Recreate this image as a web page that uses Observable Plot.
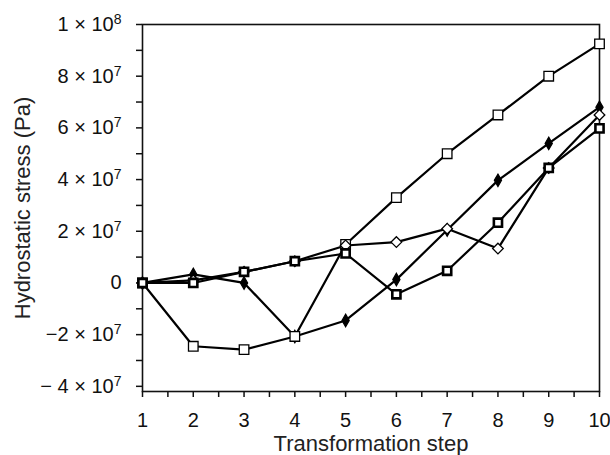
<!DOCTYPE html>
<html>
<head>
<meta charset="utf-8">
<script src="https://cdn.jsdelivr.net/npm/d3@7"></script>
<script src="https://cdn.jsdelivr.net/npm/@observablehq/plot@0.6"></script>
<style>
  html, body { margin: 0; padding: 0; background: #fff; }
  #chart { width: 610px; height: 455px; }
</style>
</head>
<body>
<div id="chart"></div>
<script>
const steps = [1, 2, 3, 4, 5, 6, 7, 8, 9, 10];
const openSquare    = [0, -2.45e7, -2.58e7, -2.07e7, 1.49e7, 3.3e7, 5.0e7, 6.5e7, 8.0e7, 9.25e7];
const filledDiamond = [0, 0.33e7, 0.0, -2.07e7, -1.45e7, 0.13e7, 2.05e7, 3.97e7, 5.4e7, 6.8e7];
const openDiamond   = [0, 0.1e7, 0.43e7, 0.84e7, 1.45e7, 1.58e7, 2.1e7, 1.33e7, 4.45e7, 6.5e7];
const boldSquare    = [0, 0, 0.43e7, 0.84e7, 1.14e7, -0.44e7, 0.47e7, 2.33e7, 4.45e7, 5.98e7];

const yMajorTicks = [-4e7, -2e7, 0, 2e7, 4e7, 6e7, 8e7, 1e8];
const yTickBase = ["\u2212 4 \u00d7 10", "\u22122 \u00d7 10", "0", "2 \u00d7 10", "4 \u00d7 10", "6 \u00d7 10", "8 \u00d7 10", "1 \u00d7 10"];
const yTickExp  = ["7", "7", "", "7", "7", "7", "7", "8"];
const yMinorTicks = [-3e7, -1e7, 1e7, 3e7, 5e7, 7e7, 9e7];
const xMinorTicks = [1.5, 2.5, 3.5, 4.5, 5.5, 6.5, 7.5, 8.5, 9.5];
const xTitle = "Transformation step";
const yTitle = "Hydrostatic stress (Pa)";

const toRows = (vals, name) => steps.map((s, i) => ({step: s, value: vals[i], series: name}));
const rowsOS = toRows(openSquare, "open square");
const rowsFD = toRows(filledDiamond, "filled diamond");
const rowsOD = toRows(openDiamond, "open diamond");
const rowsBS = toRows(boldSquare, "bold square");
const all = [...rowsOS, ...rowsFD, ...rowsOD, ...rowsBS];

const font = "'Liberation Sans', Arial, Helvetica, sans-serif";

const chart = Plot.plot({
  width: 610,
  height: 455,
  marginLeft: 142,
  marginRight: 11,
  marginTop: 24,
  marginBottom: 64,
  style: {fontFamily: font, fontSize: "20px", color: "#111", background: "#fff"},
  x: {domain: [1, 10]},
  y: {domain: [-4.2e7, 1e8]},
  marks: [
    Plot.frame({stroke: "#111", strokeWidth: 1.6}),
    Plot.axisX({ticks: steps, tickSize: 6, tickPadding: 15, tickFormat: d => String(d), label: null, strokeWidth: 1.5}),
    Plot.axisX({ticks: xMinorTicks, tickSize: 6, tickFormat: () => "", label: null, strokeWidth: 1.5}),
    Plot.axisY({ticks: yMajorTicks, tickSize: 6, tickPadding: 15, tickFormat: d => yTickBase[yMajorTicks.indexOf(d)], label: null, strokeWidth: 1.5}),
    Plot.axisY({ticks: yMinorTicks, tickSize: 6, tickFormat: () => "", label: null, strokeWidth: 1.5}),
    Plot.line(all, {x: "step", y: "value", z: "series", stroke: "#000", strokeWidth: 2.2}),
    Plot.dot(rowsFD, {x: "step", y: "value", symbol: "diamond", r: 3.8, fill: "#000", stroke: "#000", strokeWidth: 1.2}),
    Plot.dot(rowsOS, {x: "step", y: "value", symbol: "square", r: 5.4, fill: "#fff", stroke: "#000", strokeWidth: 1.3}),
    Plot.dot(rowsOD, {x: "step", y: "value", symbol: "diamond2", r: 4.8, fill: "#fff", stroke: "#000", strokeWidth: 1.3}),
    Plot.dot(rowsBS, {x: "step", y: "value", symbol: "square", r: 4.6, fill: "#fff", stroke: "#000", strokeWidth: 2.6}),
    Plot.text([xTitle], {frameAnchor: "bottom", lineAnchor: "middle", dy: 52, text: d => d, fill: "#222"}),
    Plot.text([yTitle], {frameAnchor: "left", lineAnchor: "middle", dx: -120, rotate: -90, textAnchor: "middle", text: d => d, fill: "#222"})
  ]
});

const svg = d3.select(chart);
svg.selectAll("text").style("font-size", "20px");
svg.selectAll("text").filter(function() { const t = d3.select(this).text(); return t === xTitle || t === yTitle; }).style("font-size", "22px");
// add superscript exponents to the y tick labels
svg.selectAll("text").each(function() {
  const t = d3.select(this);
  const i = yTickBase.indexOf(t.text());
  if (i >= 0 && yTickExp[i] && t.selectAll("tspan").empty()) {
    t.append("tspan").attr("dy", "-0.5em").style("font-size", "14px").text(yTickExp[i]);
  }
});
document.getElementById("chart").appendChild(chart);
</script>
</body>
</html>
